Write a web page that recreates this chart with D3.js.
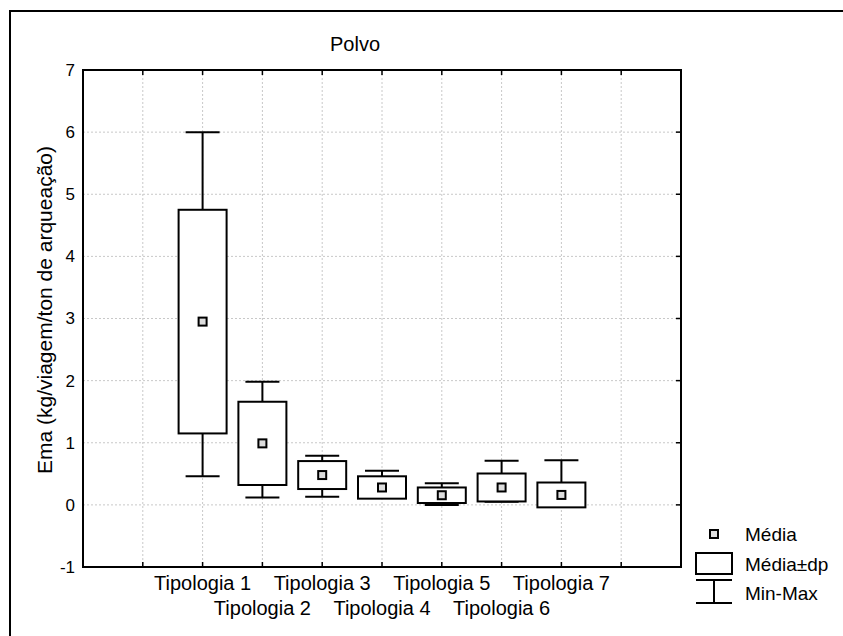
<!DOCTYPE html>
<html>
<head>
<meta charset="utf-8">
<script src="https://cdn.jsdelivr.net/npm/d3@7"></script>
<style>
  body { margin: 0; background: #fff; }
  text { font-family: "Liberation Sans", Arial, sans-serif; fill: #000; }
</style>
</head>
<body>
<script>
// data
var categories = ["Tipologia 1", "Tipologia 2", "Tipologia 3", "Tipologia 4",
                  "Tipologia 5", "Tipologia 6", "Tipologia 7"];
var means = [2.95, 0.99, 0.48, 0.28, 0.155, 0.28, 0.16];
var sds   = [1.80, 0.67, 0.225, 0.18, 0.125, 0.225, 0.20];
var maxs  = [6.0, 1.98, 0.79, 0.55, 0.35, 0.71, 0.72];
var mins  = [0.46, 0.12, 0.13, 0.12, 0.0, 0.05, 0.0];
var yTicks = [-1, 0, 1, 2, 3, 4, 5, 6, 7];
var legendLabels = ["Média", "Média±dp", "Min-Max"];

var W = 843, H = 636;
var plot = {left: 83, top: 70, right: 681, bottom: 567};

var svg = d3.select("body").append("svg")
    .attr("width", W)
    .attr("height", H);

// outer frame (runs off the right and bottom edges)
svg.append("rect")
    .attr("x", 10).attr("y", 11)
    .attr("width", W).attr("height", H)
    .attr("fill", "none")
    .attr("stroke", "#000")
    .attr("stroke-width", 2);

var x = d3.scaleLinear().domain([0, 10]).range([plot.left, plot.right]);
var y = d3.scaleLinear().domain([-1, 7]).range([plot.bottom, plot.top]);

var gridX = d3.range(1, 10);

// grid
svg.selectAll(".gx")
    .data(gridX)
  .enter().append("line")
    .attr("x1", function(d) { return x(d); })
    .attr("x2", function(d) { return x(d); })
    .attr("y1", plot.top).attr("y2", plot.bottom)
    .attr("stroke", "#c8c8c8")
    .attr("stroke-dasharray", "2,2");

svg.selectAll(".gy")
    .data(yTicks.slice(1, -1))
  .enter().append("line")
    .attr("y1", function(d) { return y(d); })
    .attr("y2", function(d) { return y(d); })
    .attr("x1", plot.left).attr("x2", plot.right)
    .attr("stroke", "#c8c8c8")
    .attr("stroke-dasharray", "2,2");

// inward ticks on all four sides
var tk = 5;
gridX.forEach(function(d) {
    svg.append("line").attr("x1", x(d)).attr("x2", x(d))
        .attr("y1", plot.top).attr("y2", plot.top + tk)
        .attr("stroke", "#000").attr("stroke-width", 1.5);
    svg.append("line").attr("x1", x(d)).attr("x2", x(d))
        .attr("y1", plot.bottom).attr("y2", plot.bottom - tk)
        .attr("stroke", "#000").attr("stroke-width", 1.5);
});
yTicks.slice(1, -1).forEach(function(d) {
    svg.append("line").attr("y1", y(d)).attr("y2", y(d))
        .attr("x1", plot.right).attr("x2", plot.right - tk)
        .attr("stroke", "#000").attr("stroke-width", 1.5);
});

// y tick labels
svg.selectAll(".ytl")
    .data(yTicks)
  .enter().append("text")
    .attr("x", plot.left - 8)
    .attr("y", function(d) { return y(d); })
    .attr("dy", "0.35em")
    .attr("text-anchor", "end")
    .attr("font-size", 17)
    .text(function(d) { return d; });

// x labels, staggered on two rows
svg.selectAll(".xtl")
    .data(categories)
  .enter().append("text")
    .attr("x", function(d, i) { return x(i + 2); })
    .attr("y", function(d, i) { return i % 2 === 0 ? 590 : 615; })
    .attr("text-anchor", "middle")
    .attr("font-size", 20)
    .text(function(d) { return d; });

// whiskers, then the mean±sd box over them
var capW = 17, boxW = 24;
categories.forEach(function(c, i) {
    var cx = x(i + 2);
    var g = svg.append("g");
    g.append("line").attr("x1", cx).attr("x2", cx)
        .attr("y1", y(maxs[i])).attr("y2", y(mins[i]))
        .attr("stroke", "#000").attr("stroke-width", 2);
    [maxs[i], mins[i]].forEach(function(v) {
        g.append("line").attr("x1", cx - capW).attr("x2", cx + capW)
            .attr("y1", y(v)).attr("y2", y(v))
            .attr("stroke", "#000").attr("stroke-width", 2);
    });
    g.append("rect")
        .attr("x", cx - boxW)
        .attr("y", y(means[i] + sds[i]))
        .attr("width", boxW * 2)
        .attr("height", y(means[i] - sds[i]) - y(means[i] + sds[i]))
        .attr("fill", "#fff")
        .attr("stroke", "#000").attr("stroke-width", 2);
    // mean marker
    g.append("rect")
        .attr("x", cx - 4).attr("y", y(means[i]) - 4)
        .attr("width", 8).attr("height", 8)
        .attr("fill", "#ddd")
        .attr("stroke", "#000").attr("stroke-width", 2);
});

// plot frame
svg.append("rect")
    .attr("x", plot.left).attr("y", plot.top)
    .attr("width", plot.right - plot.left)
    .attr("height", plot.bottom - plot.top)
    .attr("fill", "none")
    .attr("stroke", "#000").attr("stroke-width", 2);

// title and axis title
svg.append("text")
    .attr("x", 355).attr("y", 51)
    .attr("text-anchor", "middle")
    .attr("font-size", 20)
    .text("Polvo");

svg.append("text")
    .attr("transform", "translate(52,310) rotate(-90)")
    .attr("text-anchor", "middle")
    .attr("font-size", 21)
    .text("Ema (kg/viagem/ton de arqueação)");

// legend
var lx = 714, ltx = 745;
svg.append("rect")
    .attr("x", lx - 4).attr("y", 530).attr("width", 8).attr("height", 8)
    .attr("fill", "#ddd").attr("stroke", "#000").attr("stroke-width", 2);
svg.append("rect")
    .attr("x", 696).attr("y", 553).attr("width", 36).attr("height", 21)
    .attr("fill", "#fff").attr("stroke", "#000").attr("stroke-width", 2);
svg.append("line").attr("x1", 696).attr("x2", 732).attr("y1", 580).attr("y2", 580)
    .attr("stroke", "#000").attr("stroke-width", 2);
svg.append("line").attr("x1", lx).attr("x2", lx).attr("y1", 580).attr("y2", 603)
    .attr("stroke", "#000").attr("stroke-width", 2);
svg.append("line").attr("x1", 696).attr("x2", 732).attr("y1", 603).attr("y2", 603)
    .attr("stroke", "#000").attr("stroke-width", 2);

svg.selectAll(".leg")
    .data(legendLabels)
  .enter().append("text")
    .attr("x", ltx)
    .attr("y", function(d, i) { return [534, 564, 593][i]; })
    .attr("dy", "0.35em")
    .attr("font-size", 19)
    .text(function(d) { return d; });
</script>
</body>
</html>
